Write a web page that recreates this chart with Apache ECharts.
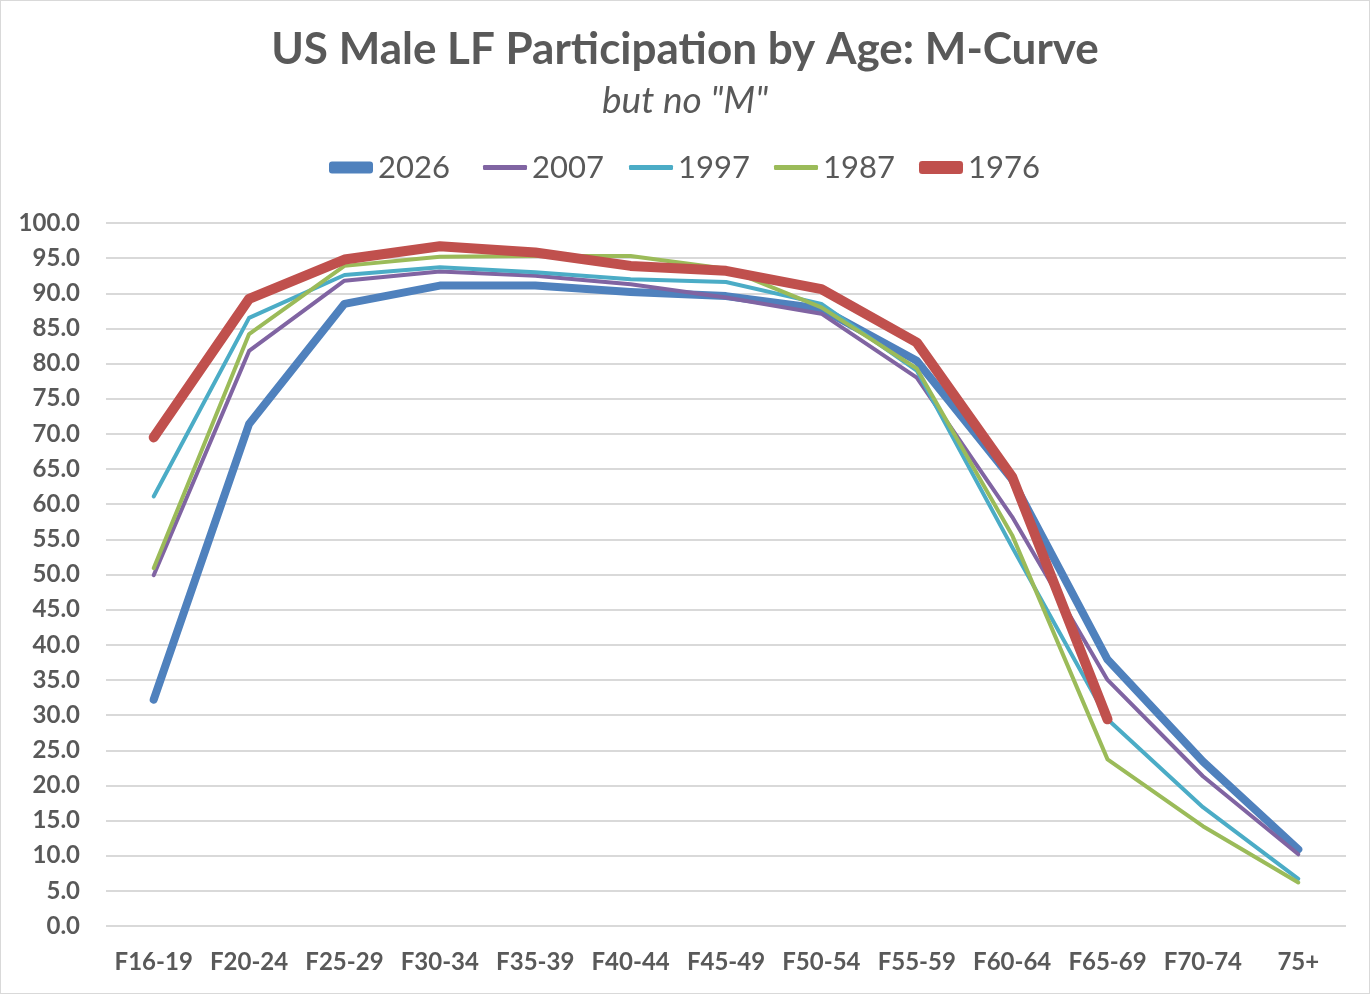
<!DOCTYPE html>
<html>
<head>
<meta charset="utf-8">
<script src="https://cdn.jsdelivr.net/npm/echarts@6/dist/echarts.min.js"></script>
<style>
html,body{margin:0;padding:0;background:#fff;}
#chart{position:absolute;left:0;top:0;width:1368px;height:992px;border:1px solid #d9d9d9;}
</style>
</head>
<body>
<div id="chart"></div>
<script>
const categories = ["F16-19","F20-24","F25-29","F30-34","F35-39","F40-44","F45-49","F50-54","F55-59","F60-64","F65-69","F70-74","75+"];
const s2026 = [32.2, 71.4, 88.5, 91.1, 91.1, 90.2, 89.6, 87.8, 80.4, 63.5, 37.9, 23.4, 10.9];
const s2007 = [49.9, 81.8, 91.8, 93.1, 92.5, 91.3, 89.4, 87.1, 78.0, 58.2, 35.0, 21.3, 10.2];
const s1997 = [61.1, 86.5, 92.6, 93.7, 93.0, 92.0, 91.6, 88.5, 79.0, 53.9, 29.4, 16.9, 6.7];
const s1987 = [50.9, 84.2, 93.9, 95.2, 95.3, 95.3, 93.5, 88.0, 79.3, 55.6, 23.7, 14.2, 6.2];
const s1976 = [69.5, 89.2, 94.8, 96.7, 95.8, 93.9, 93.2, 90.6, 83.0, 63.9, 29.4, null, null];
const seriesNames = ['2026','2007','1997','1987','1976'];
const yTicks = {min: 0, max: 100, interval: 5};

const chart = echarts.init(document.getElementById('chart'), null, {renderer: 'canvas'});
const FONT = 'Lato';
const GREY = '#595959';
const COLORS = ['#4F81BD', '#8064A2', '#4BACC6', '#9BBB59', '#C0504D'];
const WIDTHS = [8, 4, 4, 4, 10];
const LEG_LEFT = [323, 477, 623, 768, 913];
const LEG_H = [12, 5, 5, 5, 13];
function mk(i, data) {
  return {
    name: seriesNames[i], type: 'line', data: data, symbol: 'none', z: 2 + i,
    lineStyle: {color: COLORS[i], width: WIDTHS[i], cap: 'round', join: 'round'},
    itemStyle: {color: COLORS[i]},
    connectNulls: false
  };
}
const legends = seriesNames.map((n, i) => ({
  top: 146, left: LEG_LEFT[i], itemWidth: 44, itemHeight: LEG_H[i], itemGap: 0,
  icon: 'roundRect',
  textStyle: {fontFamily: FONT, fontSize: 31, color: GREY},
  data: [n]
}));
chart.setOption({
  animation: false,
  title: [
    {text: 'US Male LF Participation by Age: M-Curve', left: 'center', top: 22,
     textStyle: {fontFamily: FONT, fontWeight: 'bold', fontSize: 44, color: GREY}},
    {text: 'but no "M"', left: 'center', top: 77,
     textStyle: {fontFamily: FONT, fontStyle: 'italic', fontWeight: 'normal', fontSize: 37, color: GREY}}
  ],
  legend: legends,
  grid: {left: 105, right: 23, top: 222, bottom: 67, containLabel: false},
  xAxis: {
    type: 'category', data: categories, boundaryGap: true,
    axisLine: {show: false}, axisTick: {show: false},
    axisLabel: {fontFamily: FONT, fontWeight: 'bold', fontSize: 24, color: GREY, margin: 24, interval: 0}
  },
  yAxis: {
    type: 'value', min: yTicks.min, max: yTicks.max, interval: yTicks.interval,
    axisLine: {show: false}, axisTick: {show: false},
    splitLine: {lineStyle: {color: '#d9d9d9', width: 2}},
    axisLabel: {fontFamily: FONT, fontWeight: 'bold', fontSize: 24, color: GREY, margin: 26,
      formatter: v => v.toFixed(1)}
  },
  series: [
    mk(0, s2026), mk(1, s2007), mk(2, s1997), mk(3, s1987), mk(4, s1976)
  ]
});
</script>
</body>
</html>
